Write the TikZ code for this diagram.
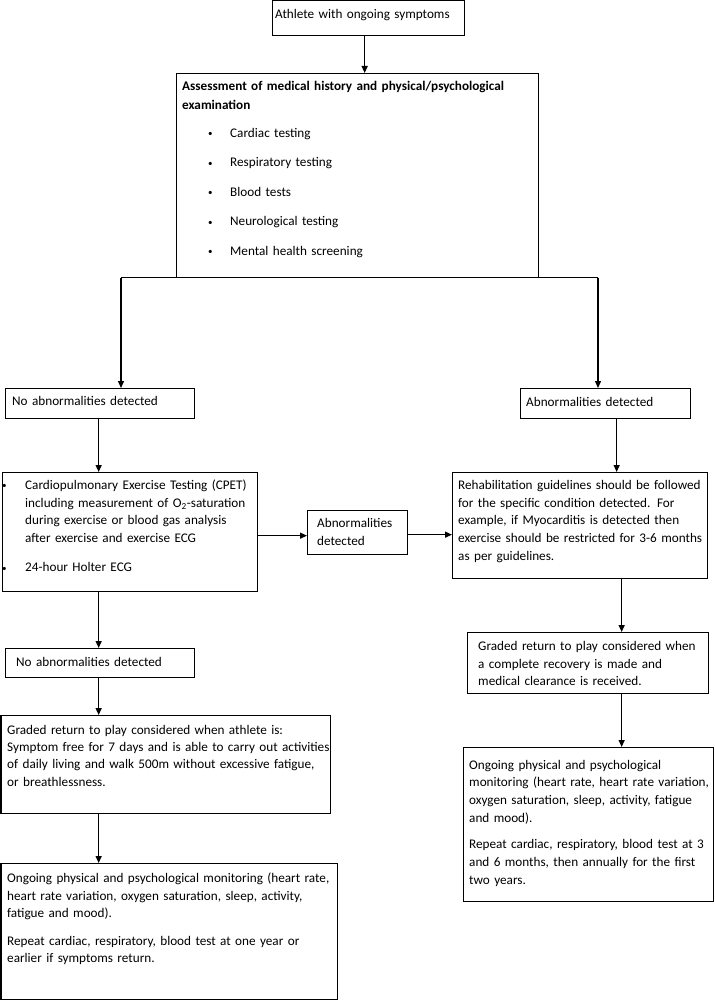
\documentclass[tikz,border=0pt]{standalone}
\usepackage{fontspec}
\setmainfont{Carlito}
\usetikzlibrary{arrows.meta,calc}
\newcommand{\fcfont}{\fontsize{13.2}{17.7}\selectfont\hyphenpenalty=10000\exhyphenpenalty=10000}
\newcommand{\fcfontb}{\fontsize{13.2}{17.4}\selectfont\hyphenpenalty=10000\exhyphenpenalty=10000}
\newcommand{\smbul}{{\fontsize{9}{9}\selectfont\raisebox{0.6pt}{•}}}
\begin{document}
\begin{tikzpicture}[x=1pt,y=-1pt,
  box/.style={draw=black, line width=1.3pt, inner sep=0pt, anchor=north west},
  arr/.style={line width=1.3pt, -{Triangle[length=7pt,width=6pt]}},
  ln/.style={line width=1.3pt},
  txt/.style={inner sep=0pt, anchor=base west, align=left, font=\fcfont}]
\useasboundingbox[fill=white] (0,0) rectangle (714,1000);

% boxes
\node[box, minimum width=192pt, minimum height=35.5pt] (b1) at (272,-0.5) {};
\node[box, minimum width=362pt, minimum height=204pt] (b2) at (176,73) {};
\node[box, minimum width=189pt, minimum height=30pt] (noab1) at (5,388) {};
\node[box, minimum width=170pt, minimum height=30pt] (ab1) at (520,388) {};
\node[box, minimum width=255pt, minimum height=119pt] (cpet) at (2,472) {};
\node[box, minimum width=100pt, minimum height=44pt] (abmid) at (307,510) {};
\node[box, minimum width=255pt, minimum height=106pt] (rehab) at (452,472) {};
\node[box, minimum width=189pt, minimum height=29pt] (noab2) at (5,648) {};
\node[box, minimum width=241pt, minimum height=61pt] (grR) at (467,632) {};
\node[box, minimum width=329.5pt, minimum height=98pt] (grL) at (0.5,715) {};
\node[box, minimum width=250pt, minimum height=154pt] (ongR) at (463,747) {};
\node[box, minimum width=336.5pt, minimum height=136pt] (ongL) at (0.5,863) {};

% texts
\node[txt, text width=185pt] (t1) at (275,18.5) {Athlete with ongoing symptoms};
\node[txt, text width=354pt, font=\fcfont\bfseries] (t2) at (182,90.5)
  {Assessment of medical history and physical/psychological\\[1.3pt]examination};
\node[txt, text width=300pt] (t2l) at (208,137.5)
  {\leavevmode\makebox[22pt][l]{\smbul}Cardiac testing\\[11.8pt]
   \leavevmode\makebox[22pt][l]{\smbul}Respiratory testing\\[11.8pt]
   \leavevmode\makebox[22pt][l]{\smbul}Blood tests\\[11.8pt]
   \leavevmode\makebox[22pt][l]{\smbul}Neurological testing\\[11.8pt]
   \leavevmode\makebox[22pt][l]{\smbul}Mental health screening};
\node[txt, text width=180pt] (tn1) at (12,405.5) {No abnormalities detected};
\node[txt, text width=162pt] (ta1) at (526,406.5) {Abnormalities detected};
\node[txt, text width=232pt] (tc) at (25,489.5)
  {\leavevmode\llap{\makebox[23pt][l]{\smbul}}Cardiopulmonary Exercise Testing (CPET)\\
   including measurement of O\textsubscript{2}-saturation\\
   during exercise or blood gas analysis\\
   after exercise and exercise ECG\\[11.3pt]
   \leavevmode\llap{\makebox[23pt][l]{\smbul}}24-hour Holter ECG};
\node[txt, text width=90pt] (tm) at (317,527.5) {Abnormalities\\detected};
\node[txt, text width=249pt] (tr) at (458,489.5)
  {Rehabilitation guidelines should be followed\\
   for the specific condition detected. For\\
   example, if Myocarditis is detected then\\
   exercise should be restricted for 3-6 months\\
   as per guidelines.};
\node[txt, text width=178pt] (tn2) at (16,666.5) {No abnormalities detected};
\node[txt, text width=230pt] (tgr) at (478,650.5)
  {Graded return to play considered when\\
   a complete recovery is made and\\
   medical clearance is received.};
\node[txt, text width=323pt, font=\fcfontb] (tgl) at (7,734)
  {Graded return to play considered when athlete is:\\
   Symptom free for 7 days and is able to carry out activities\\
   of daily living and walk 500m without excessive fatigue,\\
   or breathlessness.};
\node[txt, text width=244pt] (tor) at (469,769)
  {Ongoing physical and psychological\\
   monitoring (heart rate, heart rate variation,\\
   oxygen saturation, sleep, activity, fatigue\\
   and mood).\\[9pt]
   Repeat cardiac, respiratory, blood test at 3\\
   and 6 months, then annually for the first\\
   two years.};
\node[txt, text width=330pt] (tol) at (7,882.5)
  {Ongoing physical and psychological monitoring (heart rate,\\
   heart rate variation, oxygen saturation, sleep, activity,\\
   fatigue and mood).\\[9.5pt]
   Repeat cardiac, respiratory, blood test at one year or\\
   earlier if symptoms return.};

% connectors
\coordinate (splitL) at (121,277.5);
\coordinate (splitR) at (598,277.5);
\draw[arr] ([xshift=-4pt]b1.south) -- ([xshift=-4pt]b1.south |- b2.north);
\draw[ln] (splitL) -- (splitR);
\draw[arr] (splitL) -- (splitL |- noab1.north);
\draw[arr] (splitR) -- (splitR |- ab1.north);
\draw[arr] ([xshift=-1.5pt]noab1.south) -- ([xshift=-1.5pt]noab1.south |- cpet.north);
\draw[arr] ([xshift=-1.5pt]noab1.south |- cpet.south) -- ([xshift=-1.5pt]noab1.south |- noab2.north);
\draw[arr] ([xshift=-1.5pt]noab2.south) -- ([xshift=-1.5pt]noab2.south |- grL.north);
\draw[arr] ([xshift=-1.5pt]noab2.south |- grL.south) -- ([xshift=-1.5pt]noab2.south |- ongL.north);
\draw[arr] ([yshift=-3pt]cpet.east |- abmid.west) -- ([yshift=-3pt]abmid.west);
\draw[arr] ([yshift=-2pt]abmid.east) -- ([yshift=-2pt]abmid.east -| rehab.west);
\draw[arr] ([xshift=11pt]ab1.south) -- ([xshift=11pt]ab1.south |- rehab.north);
\draw[arr] ([xshift=41.5pt]rehab.south) -- ([xshift=41.5pt]rehab.south |- grR.north);
\draw[arr] ([xshift=33.5pt]grR.south) -- ([xshift=33.5pt]grR.south |- ongR.north);
\end{tikzpicture}
\end{document}
